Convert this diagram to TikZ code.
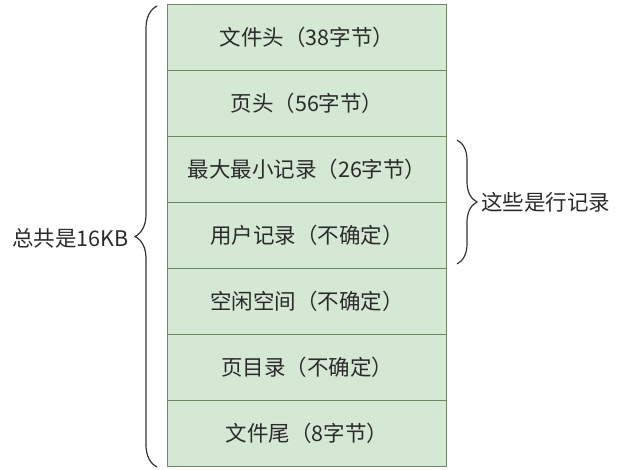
\documentclass[tikz,border=0pt]{standalone}
\usepackage{fontspec}
\setmainfont{Noto Sans CJK SC}
\usetikzlibrary{decorations.pathreplacing}
\definecolor{boxfill}{HTML}{D5E8D4}
\definecolor{boxline}{HTML}{6F8A66}
\definecolor{txt}{HTML}{2B2B2B}
\begin{document}
\begin{tikzpicture}[x=1pt,y=-1pt,
  seg/.style={draw=boxline,fill=boxfill,line width=1pt,minimum width=279pt,minimum height=66pt,inner sep=0pt,font=\fontsize{21.5}{24}\selectfont,text=txt,anchor=north west},
  brc/.style={draw=black!80,line width=1.2pt,decorate,decoration={brace,amplitude=#1}},
  lbl/.style={font=\fontsize{21.5}{24}\selectfont,text=txt,inner sep=0pt}]
\useasboundingbox (0,0) rectangle (628,470);
\node[seg] (r1) at (167,4) {文件头（38字节）};
\node[seg] (r2) at (167,70) {页头（56字节）};
\node[seg] (r3) at (167,136) {最大最小记录（26字节）};
\node[seg] (r4) at (167,202) {用户记录（不确定）};
\node[seg] (r5) at (167,268) {空闲空间（不确定）};
\node[seg] (r6) at (167,334) {页目录（不确定）};
\node[seg] (r7) at (167,400) {文件尾（8字节）};
\coordinate (lt) at (157,6);
\coordinate (lb) at (157,467);
\draw[brc=22pt] (lb) -- (lt);
\node[lbl,anchor=east] (total) at (129,238) {总共是16KB};
\coordinate (rt) at (457,140);
\coordinate (rb) at (457,264);
\draw[brc=20pt] (rt) -- (rb);
\node[lbl,anchor=west] (rows) at (481,202) {这些是行记录};
\end{tikzpicture}
\end{document}
